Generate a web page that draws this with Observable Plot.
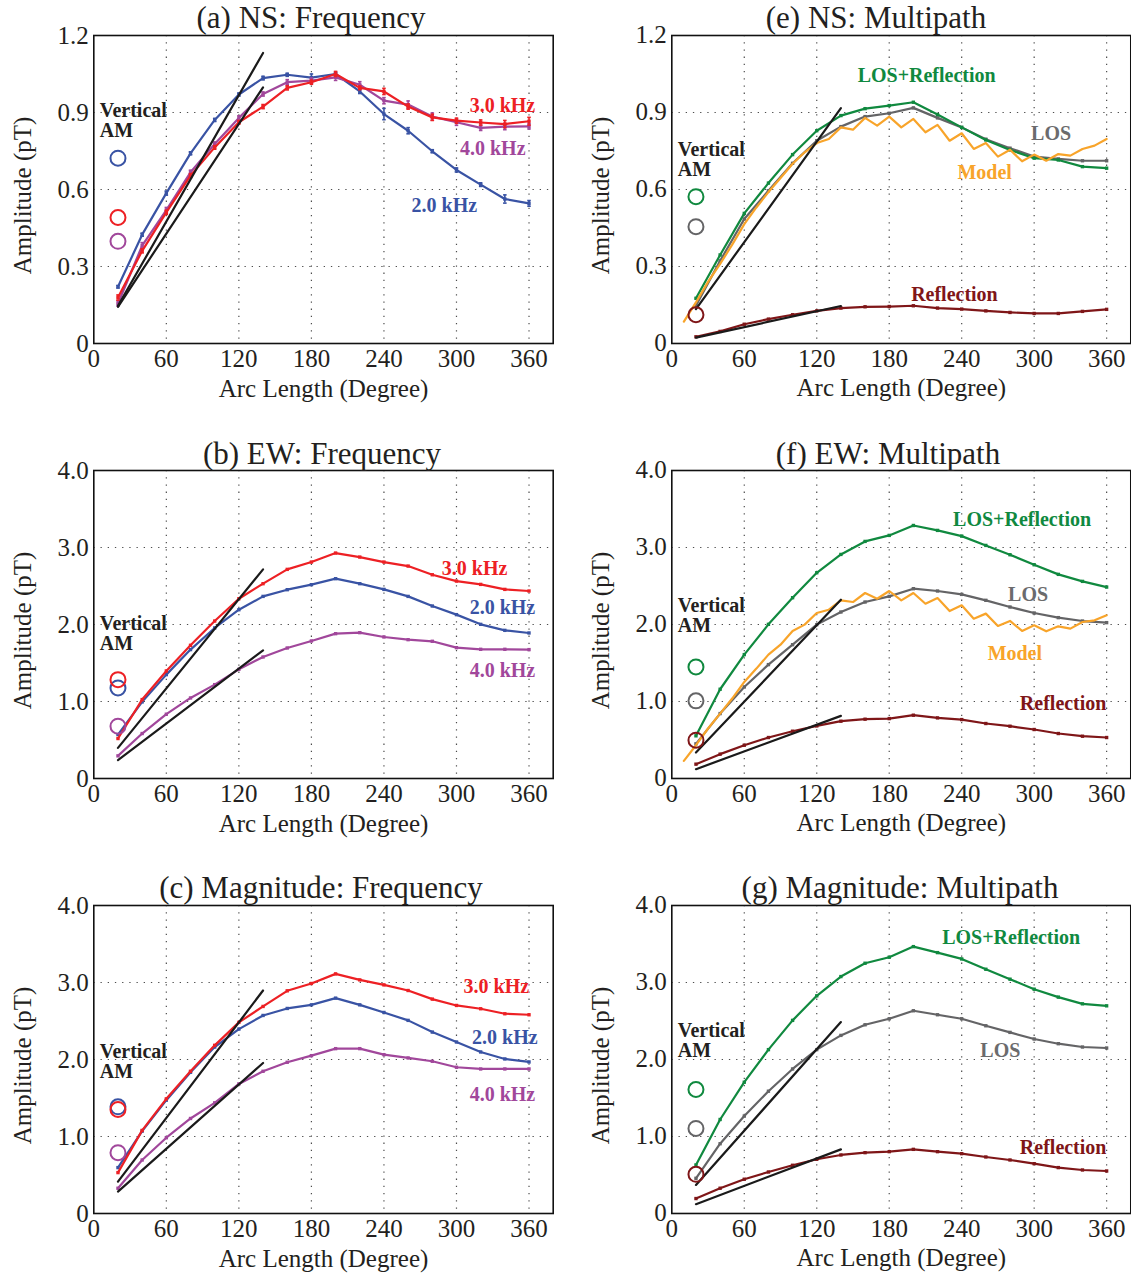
<!DOCTYPE html>
<html><head><meta charset="utf-8">
<script src="https://cdn.jsdelivr.net/npm/d3@7"></script>
<script src="https://cdn.jsdelivr.net/npm/@observablehq/plot@0.6"></script>
<style>
body{margin:0;background:#fff;}
#root{position:relative;width:1131px;height:1274px;background:#fff;font-family:"Liberation Serif","Times New Roman",serif;color:#231f20;overflow:hidden}
.title{position:absolute;font-size:31px;line-height:31px;white-space:nowrap;transform:translateX(-50%);}
.panel{position:absolute}
</style></head><body><div id="root"></div>
<script>
// ---------- shared axes ----------
const arcLength = [20,40,60,80,100,120,140,160,180,200,220,240,260,280,300,320,340,360];
const modelArc = [10,20,30,40,50,60,70,80,90,100,110,120,130,140,150,160,170,180,190,200,210,220,230,240,250,260,270,280,290,300,310,320,330,340,350,360];
const xTicks = [0,60,120,180,240,300,360];
const nsTicks = [0,0.3,0.6,0.9,1.2];
const ampTicks = [0,1,2,3,4];
const fitArc = [20,140];
const amArc = 20;
const verticalArc = 5;

// ---------- (a) NS: Frequency ----------
const nsFreq2k = [0.221,0.424,0.586,0.741,0.871,0.970,1.034,1.047,1.036,1.050,0.982,0.894,0.829,0.749,0.676,0.619,0.563,0.546];
const nsFreq3k = [0.179,0.361,0.511,0.654,0.764,0.862,0.923,0.996,1.018,1.050,0.996,0.982,0.923,0.881,0.868,0.861,0.855,0.866];
const nsFreq4k = [0.156,0.381,0.520,0.667,0.777,0.879,0.972,1.018,1.024,1.037,1.008,0.946,0.931,0.884,0.862,0.840,0.845,0.846];
const nsFreq2kErr = [0.005,0.006,0.008,0.006,0.006,0.006,0.007,0.006,0.014,0.007,0.008,0.022,0.012,0.006,0.008,0.007,0.016,0.011];
const nsFreq3kErr = [0.010,0.008,0.008,0.008,0.007,0.007,0.008,0.008,0.008,0.010,0.007,0.012,0.010,0.012,0.010,0.010,0.014,0.015];
const nsFreq4kErr = [0.010,0.012,0.010,0.008,0.008,0.008,0.008,0.010,0.010,0.012,0.012,0.012,0.014,0.014,0.012,0.010,0.012,0.010];
const nsFreqFitA = [0.147,1.132];
const nsFreqFitB = [0.143,0.998];
const nsFreqAM = [0.722,0.491,0.398];           // 2.0, 3.0, 4.0 kHz
const nsFreqVerticalY = 0.805;
const nsFreqLabelText = ["3.0 kHz","4.0 kHz","2.0 kHz"];
const nsFreqLabelX = [338,330,290];
const nsFreqLabelY = [0.927,0.759,0.536];

// ---------- (b) EW: Frequency ----------
const ewFreq2k = [0.571,0.995,1.349,1.674,1.955,2.192,2.365,2.452,2.517,2.595,2.530,2.456,2.365,2.240,2.128,2.002,1.924,1.890];
const ewFreq3k = [0.519,1.025,1.397,1.730,2.045,2.335,2.530,2.716,2.811,2.928,2.876,2.811,2.759,2.646,2.564,2.521,2.456,2.435];
const ewFreq4k = [0.294,0.584,0.835,1.046,1.219,1.418,1.578,1.695,1.786,1.881,1.894,1.838,1.803,1.782,1.699,1.678,1.678,1.674];
const ewFreqFitA = [0.398,2.716];
const ewFreqFitB = [0.238,1.665];
const ewFreqAM = [1.176,1.284,0.679];
const ewFreqVerticalY = 1.664;
const ewFreqLabelText = ["3.0 kHz","2.0 kHz","4.0 kHz"];
const ewFreqLabelX = [315,338,338];
const ewFreqLabelY = [2.724,2.226,1.405];

// ---------- (c) Magnitude: Frequency ----------
const magFreq2k = [0.596,1.070,1.472,1.834,2.162,2.395,2.572,2.663,2.710,2.797,2.710,2.611,2.508,2.356,2.227,2.098,2.007,1.968];
const magFreq3k = [0.531,1.079,1.489,1.847,2.184,2.482,2.689,2.892,2.987,3.112,3.034,2.969,2.896,2.784,2.702,2.659,2.594,2.581];
const magFreq4k = [0.328,0.695,0.984,1.234,1.437,1.683,1.847,1.964,2.050,2.141,2.141,2.063,2.020,1.977,1.899,1.877,1.877,1.877];
const magFreqFitA = [0.414,2.896];
const magFreqFitB = [0.285,1.955];
const magFreqAM = [1.385,1.351,0.790];
const magFreqVerticalY = 1.766;
const magFreqLabelText = ["3.0 kHz","2.0 kHz","4.0 kHz"];
const magFreqLabelX = [333,340,338];
const magFreqLabelY = [2.944,2.283,1.549];

// ---------- (e) NS: Multipath ----------
const nsLosRefl = [0.176,0.345,0.507,0.625,0.736,0.829,0.888,0.915,0.927,0.940,0.892,0.842,0.793,0.754,0.722,0.715,0.689,0.683];
const nsLos = [0.147,0.322,0.485,0.595,0.702,0.790,0.845,0.884,0.897,0.918,0.879,0.842,0.796,0.761,0.728,0.719,0.712,0.712];
const nsRefl = [0.026,0.047,0.075,0.095,0.112,0.127,0.138,0.143,0.144,0.147,0.138,0.134,0.127,0.121,0.117,0.117,0.125,0.133];
const nsModel = [0.085,0.160,0.240,0.310,0.385,0.465,0.530,0.590,0.645,0.700,0.745,0.781,0.797,0.842,0.833,0.879,0.849,0.884,0.842,0.875,0.823,0.852,0.790,0.819,0.758,0.781,0.728,0.755,0.710,0.736,0.712,0.738,0.732,0.758,0.771,0.797];
const nsMultiFitA = [0.134,0.917];
const nsMultiFitB = [0.023,0.146];
const nsMultiAM = [0.572,0.455,0.112];          // LOS+Reflection, LOS, Reflection
const nsMultiVerticalY = 0.651;
const nsMultiLabelText = ["LOS+Reflection","LOS","Model","Reflection"];
const nsMultiLabelX = [211,314,259,234];
const nsMultiLabelY = [1.045,0.817,0.664,0.192];

// ---------- (f) EW: Multipath ----------
const ewLosRefl = [0.554,1.159,1.609,2.002,2.348,2.672,2.910,3.079,3.157,3.286,3.222,3.148,3.027,2.906,2.776,2.651,2.560,2.486];
const ewLos = [0.450,0.843,1.189,1.479,1.738,1.998,2.162,2.292,2.365,2.465,2.435,2.391,2.314,2.227,2.149,2.089,2.045,2.024];
const ewRefl = [0.186,0.316,0.432,0.532,0.614,0.683,0.744,0.770,0.778,0.822,0.787,0.765,0.714,0.679,0.636,0.584,0.549,0.532];
const ewModel = [0.229,0.432,0.649,0.843,1.038,1.254,1.427,1.609,1.738,1.916,1.998,2.149,2.192,2.314,2.292,2.409,2.335,2.435,2.314,2.409,2.270,2.344,2.175,2.249,2.076,2.141,1.981,2.046,1.916,1.989,1.911,1.976,1.946,2.032,2.054,2.119];
const ewMultiFitA = [0.337,2.322];
const ewMultiFitB = [0.121,0.813];
const ewMultiAM = [1.449,1.008,0.497];
const ewMultiVerticalY = 1.90;
const ewMultiLabelText = ["LOS+Reflection","LOS","Model","Reflection"];
const ewMultiLabelX = [290,295,284,324];
const ewMultiLabelY = [3.361,2.388,1.621,0.973];

// ---------- (g) Magnitude: Multipath ----------
const magLosRefl = [0.630,1.221,1.705,2.128,2.508,2.827,3.077,3.250,3.328,3.466,3.388,3.306,3.172,3.043,2.913,2.810,2.723,2.697];
const magLos = [0.457,0.906,1.265,1.588,1.877,2.128,2.313,2.451,2.529,2.633,2.581,2.529,2.438,2.352,2.266,2.205,2.162,2.149];
const magRefl = [0.194,0.328,0.445,0.539,0.626,0.704,0.760,0.790,0.803,0.833,0.803,0.777,0.734,0.695,0.647,0.596,0.565,0.552];
const magMultiFitA = [0.371,2.486];
const magMultiFitB = [0.121,0.833];
const magMultiAM = [1.610,1.105,0.509];
const magMultiVerticalY = 2.035;
const magMultiLabelText = ["LOS+Reflection","LOS","Reflection"];
const magMultiLabelX = [281,272,324];
const magMultiLabelY = [3.581,2.121,0.859];

// ---------- styles ----------
const FONT = '"Liberation Serif","Times New Roman",serif';
const INK = "#231f20";
const C2 = "#3953a4", C3 = "#ed2024", C4 = "#a1479b";
const CLR = "#10893f", CLOS = "#646466", CMOD = "#f8a42a", CREF = "#7f1618";
const labelColor = {"3.0 kHz":C3,"2.0 kHz":C2,"4.0 kHz":C4,"LOS+Reflection":CLR,"LOS":"#6b6b6d","Model":CMOD,"Reflection":CREF};

const capSymbol = {draw(ctx, size){ const w = Math.sqrt(size)/2; ctx.moveTo(-w,0); ctx.lineTo(w,0); }};

function rows(xs, ys, errs) {
  return xs.map((x,i) => errs ? {x, y: ys[i], lo: ys[i]-errs[i], hi: ys[i]+errs[i]} : {x, y: ys[i]});
}
const fmtTick = d => d === 0 ? "0" : d.toFixed(1);

function buildPanel(cfg) {
  const yTicks = cfg.yTicks;
  const gridStyle = {stroke:"#3a3a3a", strokeOpacity:0.9, strokeWidth:1.2, strokeDasharray:"1.3,5.9"};
  const marks = [
    Plot.gridX(xTicks.filter(t => t > 0), gridStyle),
    Plot.gridY(yTicks.filter((t,i) => i > 0 && i < yTicks.length - 1), gridStyle),
    Plot.axisX(xTicks, {anchor:"bottom", tickSize:0, tickPadding:6, fontSize:25, fill:INK, label:null}),
    Plot.axisY(yTicks, {anchor:"left", tickSize:0, tickPadding:5, fontSize:25, fill:INK, tickFormat:fmtTick, label:null})
  ];
  for (const s of cfg.lines) {
    const d = rows(s.x || arcLength, s.y, s.err);
    marks.push(Plot.line(d, {x:"x", y:"y", stroke:s.color, strokeWidth:2.2}));
    if (s.err) {
      marks.push(Plot.ruleX(d, {x:"x", y1:"lo", y2:"hi", stroke:s.color, strokeWidth:1.6}));
      marks.push(Plot.dot(d, {x:"x", y:"lo", symbol:capSymbol, r:2, stroke:s.color, strokeWidth:1.6}));
      marks.push(Plot.dot(d, {x:"x", y:"hi", symbol:capSymbol, r:2, stroke:s.color, strokeWidth:1.6}));
    }
    if (s.marker) marks.push(Plot.dot(d, {x:"x", y:"y", symbol:"square", r:1.9, fill:s.color}));
  }
  for (const f of cfg.fits) {
    marks.push(Plot.line(rows(fitArc, f), {x:"x", y:"y", stroke:"#1a1a1a", strokeWidth:2.2}));
  }
  marks.push(Plot.dot(cfg.am.map((v,i) => ({x: amArc, y: v, c: cfg.amColors[i]})),
    {x:"x", y:"y", r:7.5, stroke:"c", strokeWidth:2, fill:"none"}));
  marks.push(Plot.text(cfg.labelText.map((t,i) => ({t, x: cfg.labelX[i], y: cfg.labelY[i]})),
    {x:"x", y:"y", text:"t", fill: d => labelColor[d.t], fontSize:20, fontWeight:"bold", textAnchor:"middle"}));
  marks.push(Plot.text(["Vertical\nAM"], {x: verticalArc, y: cfg.verticalY, textAnchor:"start", lineAnchor:"bottom",
    lineHeight:1, fontSize:20, fontWeight:"bold", fill:INK}));
  marks.push(Plot.text(["Arc Length (Degree)"], {frameAnchor:"bottom", dy:53, lineAnchor:"bottom", textAnchor:"middle", fontSize:25, fill:INK}));
  marks.push(Plot.text(["Amplitude (pT)"], {frameAnchor:"left", dx:-71, dy:6, rotate:-90, textAnchor:"middle", fontSize:25, fill:INK}));
  marks.push(Plot.frame({stroke:"#111", strokeWidth:1.6}));

  return Plot.plot({
    width: cfg.width, height: 388,
    marginLeft: 93.3, marginRight: cfg.marginRight, marginTop: 10, marginBottom: 70,
    x: {domain:[0,380]},
    y: {domain: cfg.yDomain},
    color: {type:"identity"},
    style: {fontFamily: FONT, background:"transparent", overflow:"visible"},
    marks
  });
}

const panels = [
  {title:"(a) NS: Frequency", titleX:311, left:0, top:25, titleTop:2, width:565, marginRight:12.3, yDomain:[0,1.2], yTicks:nsTicks,
   lines:[{y:nsFreq2k, err:nsFreq2kErr, color:C2, marker:true},{y:nsFreq4k, err:nsFreq4kErr, color:C4, marker:true},{y:nsFreq3k, err:nsFreq3kErr, color:C3, marker:true}],
   fits:[nsFreqFitA, nsFreqFitB], am:nsFreqAM, amColors:[C2,C3,C4], verticalY:nsFreqVerticalY,
   labelText:nsFreqLabelText, labelX:nsFreqLabelX, labelY:nsFreqLabelY},
  {title:"(b) EW: Frequency", titleX:322, left:0, top:460, titleTop:438, width:565, marginRight:12.3, yDomain:[0,4], yTicks:ampTicks,
   lines:[{y:ewFreq4k, color:C4, marker:true},{y:ewFreq2k, color:C2, marker:true},{y:ewFreq3k, color:C3, marker:true}],
   fits:[ewFreqFitA, ewFreqFitB], am:ewFreqAM, amColors:[C2,C3,C4], verticalY:ewFreqVerticalY,
   labelText:ewFreqLabelText, labelX:ewFreqLabelX, labelY:ewFreqLabelY},
  {title:"(c) Magnitude: Frequency", titleX:321, left:0, top:894.5, titleTop:872, width:565, marginRight:12.3, yDomain:[0,4], yTicks:ampTicks,
   lines:[{y:magFreq4k, color:C4, marker:true},{y:magFreq2k, color:C2, marker:true},{y:magFreq3k, color:C3, marker:true}],
   fits:[magFreqFitA, magFreqFitB], am:magFreqAM, amColors:[C2,C3,C4], verticalY:magFreqVerticalY,
   labelText:magFreqLabelText, labelX:magFreqLabelX, labelY:magFreqLabelY},
  {title:"(e) NS: Multipath", titleX:876, left:577.7, top:25, titleTop:2, width:553.3, marginRight:1, yDomain:[0,1.2], yTicks:nsTicks,
   lines:[{y:nsRefl, color:CREF, marker:true},{y:nsLos, color:CLOS, marker:true},{y:nsLosRefl, color:CLR, marker:true},{x:modelArc, y:nsModel, color:CMOD}],
   fits:[nsMultiFitA, nsMultiFitB], am:nsMultiAM, amColors:[CLR,CLOS,CREF], verticalY:nsMultiVerticalY,
   labelText:nsMultiLabelText, labelX:nsMultiLabelX, labelY:nsMultiLabelY},
  {title:"(f) EW: Multipath", titleX:888, left:577.7, top:460, titleTop:438, width:553.3, marginRight:1, yDomain:[0,4], yTicks:ampTicks,
   lines:[{y:ewRefl, color:CREF, marker:true},{y:ewLos, color:CLOS, marker:true},{y:ewLosRefl, color:CLR, marker:true},{x:modelArc, y:ewModel, color:CMOD}],
   fits:[ewMultiFitA, ewMultiFitB], am:ewMultiAM, amColors:[CLR,CLOS,CREF], verticalY:ewMultiVerticalY,
   labelText:ewMultiLabelText, labelX:ewMultiLabelX, labelY:ewMultiLabelY},
  {title:"(g) Magnitude: Multipath", titleX:900, left:577.7, top:894.5, titleTop:872, width:553.3, marginRight:1, yDomain:[0,4], yTicks:ampTicks,
   lines:[{y:magRefl, color:CREF, marker:true},{y:magLos, color:CLOS, marker:true},{y:magLosRefl, color:CLR, marker:true}],
   fits:[magMultiFitA, magMultiFitB], am:magMultiAM, amColors:[CLR,CLOS,CREF], verticalY:magMultiVerticalY,
   labelText:magMultiLabelText, labelX:magMultiLabelX, labelY:magMultiLabelY}
];

const root = document.getElementById("root");
for (const p of panels) {
  const wrap = document.createElement("div");
  wrap.className = "panel";
  wrap.style.left = p.left + "px";
  wrap.style.top = p.top + "px";
  wrap.appendChild(buildPanel(p));
  root.appendChild(wrap);
}
for (const p of panels) {
  const t = document.createElement("div");
  t.className = "title";
  t.textContent = p.title;
  t.style.left = p.titleX + "px";
  t.style.top = p.titleTop + "px";
  root.appendChild(t);
}
</script></body></html>
